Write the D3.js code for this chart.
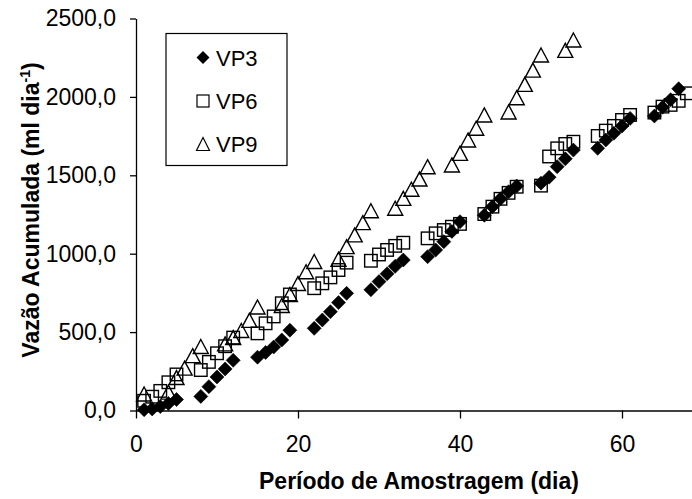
<!DOCTYPE html>
<html>
<head>
<meta charset="utf-8">
<script src="https://cdn.jsdelivr.net/npm/d3@7"></script>
<style>
  html, body { margin: 0; padding: 0; background: #fff; }
  svg { display: block; font-family: "Liberation Sans", Arial, sans-serif; }
</style>
</head>
<body>
<svg id="chart" width="692" height="499"></svg>
<script>
// ---- data ----
const seriesNames = ["VP3", "VP6", "VP9"];

const daysVP3 = [1,2,3,4,5, 8,9,10,11,12, 15,16,17,18,19, 22,23,24,25,26, 29,30,31,32,33, 36,37,38,39,40, 43,44,45,46,47, 50,51,52,53,54, 57,58,59,60,61, 64,65,66,67];
const valuesVP3 = [5,10,25,45,70, 90,152,214,265,320, 340,370,405,450,512, 524,577,630,688,747, 770,822,872,920,960, 981,1024,1077,1142,1204, 1245,1300,1350,1395,1432, 1450,1488,1555,1605,1661, 1672,1725,1768,1814,1863, 1878,1934,1982,2052];

const daysVP6 = [1,2,3,4,5, 8,9,10,11,12, 15,16,17,18,19, 22,23,24,25,26, 29,30,31,32,33, 36,37,38,39,40, 43,44,45,46,47, 50,51,52,53,54, 57,58,59,60,61, 64,65,66,67,68];
const valuesVP6 = [62,88,125,180,230, 258,310,365,410,465, 492,556,600,684,740, 780,811,849,896,943, 955,995,1024,1050,1070, 1098,1130,1151,1172,1190, 1253,1300,1350,1388,1427, 1434,1620,1672,1700,1714, 1751,1785,1815,1853,1885, 1900,1938,1949,1975,2023];

const daysVP9 = [1, 4,5,6,7,8, 11,12,13,14,15, 18,19,20,21,22, 25,26,27,28,29, 32,33,34,35,36, 39,40,41,42,43, 46,47,48,49,50, 53,54];
const valuesVP9 = [105, 117,210,270,350,408, 425,465,510,575,660, 670,740,810,885,950, 965,1045,1120,1198,1274, 1290,1353,1411,1476,1555, 1566,1640,1725,1800,1885, 1904,1995,2080,2171,2267, 2297,2363];

const xTicks = [0, 20, 40, 60];
const yTicks = [0, 500, 1000, 1500, 2000, 2500];

const xTitle = "Período de Amostragem (dia)";
const yTitleMain = "Vazão Acumulada (ml dia";
const yTitleSup = "-1";
const yTitleEnd = ")";

// ---- layout ----
const svg = d3.select("#chart");
const x = d3.scaleLinear().domain([0, 70]).range([136, 703]);
const y = d3.scaleLinear().domain([0, 2500]).range([410.5, 18.5]);

const fontSize = 23;

const plot = svg.append("g");

function triPath(cx, cy, w, h) {
  return `M${cx},${cy - h/2}L${cx + w/2},${cy + h/2}L${cx - w/2},${cy + h/2}Z`;
}
function diaPath(cx, cy, w, h) {
  return `M${cx},${cy - h/2}L${cx + w/2},${cy}L${cx},${cy + h/2}L${cx - w/2},${cy}Z`;
}

const vp9 = daysVP9.map((d, i) => ({d, v: valuesVP9[i]}));
const vp6 = daysVP6.map((d, i) => ({d, v: valuesVP6[i]}));
const vp3 = daysVP3.map((d, i) => ({d, v: valuesVP3[i]}));

plot.selectAll("path.vp9").data(vp9).enter().append("path")
  .attr("class", "vp9")
  .attr("d", p => triPath(x(p.d), y(p.v), 15, 14))
  .attr("fill", "none").attr("stroke", "#000").attr("stroke-width", 1.4);

plot.selectAll("rect.vp6").data(vp6).enter().append("rect")
  .attr("class", "vp6")
  .attr("x", p => x(p.d) - 6.25).attr("y", p => y(p.v) - 6.25)
  .attr("width", 12.5).attr("height", 12.5)
  .attr("fill", "none").attr("stroke", "#000").attr("stroke-width", 1.4);

plot.selectAll("path.vp3").data(vp3).enter().append("path")
  .attr("class", "vp3")
  .attr("d", p => diaPath(x(p.d), y(p.v), 14, 14))
  .attr("fill", "#000").attr("stroke", "#000").attr("stroke-width", 0.6);

// axes
const fmt = v => d3.format(".1f")(v).replace(".", ",");

const gy = svg.append("g").attr("transform", "translate(136,0)")
  .call(d3.axisLeft(y).tickValues(yTicks).tickSize(6).tickSizeOuter(0).tickPadding(14).tickFormat(fmt));
const gx = svg.append("g").attr("transform", "translate(0,410.5)")
  .call(d3.axisBottom(x).tickValues(xTicks).tickSize(8).tickSizeOuter(0).tickPadding(17).tickFormat(d3.format("d")));

[gx, gy].forEach(g => {
  g.select(".domain").attr("stroke", "#000").attr("stroke-width", 1.3);
  g.selectAll(".tick line").attr("stroke", "#000").attr("stroke-width", 1.3);
  g.selectAll(".tick text").attr("fill", "#000")
    .style("font-size", fontSize + "px")
    .style("font-family", '"Liberation Sans", Arial, sans-serif');
});

// axis titles
svg.append("text")
  .attr("x", 419).attr("y", 489)
  .attr("text-anchor", "middle")
  .style("font-size", fontSize + "px").style("font-weight", "bold")
  .text(xTitle);

const yt = svg.append("text")
  .attr("transform", "translate(39,210) rotate(-90)")
  .attr("text-anchor", "middle")
  .style("font-size", fontSize + "px").style("font-weight", "bold");
yt.append("tspan").text(yTitleMain);
yt.append("tspan").attr("dy", -9).style("font-size", "14px").text(yTitleSup);
yt.append("tspan").attr("dy", 9).text(yTitleEnd);

// legend
const legend = svg.append("g");
legend.append("rect")
  .attr("x", 166).attr("y", 33.5).attr("width", 121).attr("height", 132)
  .attr("fill", "#fff").attr("stroke", "#000").attr("stroke-width", 1.2);

const legendY = [57.5, 101, 144];
const legendMarkers = [
  g => g.append("path").attr("d", diaPath(203, legendY[0], 13, 13)).attr("fill", "#000"),
  g => g.append("rect").attr("x", 197).attr("y", legendY[1] - 6).attr("width", 12).attr("height", 12)
        .attr("fill", "none").attr("stroke", "#000").attr("stroke-width", 1.2),
  g => g.append("path").attr("d", triPath(203, legendY[2], 13, 13))
        .attr("fill", "none").attr("stroke", "#000").attr("stroke-width", 1.2)
];
seriesNames.forEach((name, i) => {
  legendMarkers[i](legend);
  legend.append("text")
    .attr("x", 216).attr("y", legendY[i] + 8)
    .style("font-size", "22px")
    .text(name);
});
</script>
</body>
</html>
